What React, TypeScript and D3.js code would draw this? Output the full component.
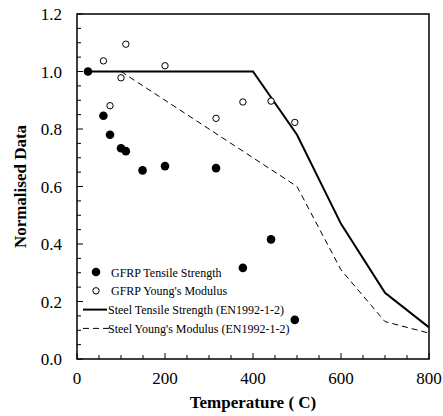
import React from "react";
import * as d3 from "d3";

// GFRP test data (normalised)
const gfrpTemp = [25, 60, 75, 100, 111, 149, 200, 316, 377, 441, 495];
const gfrpStrength = [1.0, 0.846, 0.78, 0.733, 0.723, 0.656, 0.671, 0.664, 0.317, 0.416, 0.136];

const gfrpModTemp = [60, 75, 100, 111, 200, 316, 377, 441, 495];
const gfrpModulus = [1.037, 0.881, 0.978, 1.095, 1.02, 0.837, 0.894, 0.897, 0.823];

// EN1992-1-2 reduction factors
const steelTemp = [20, 400, 500, 600, 700, 800];
const steelStrength = [1.0, 1.0, 0.78, 0.47, 0.23, 0.11];

const steelModTemp = [100, 200, 300, 400, 500, 600, 700, 800];
const steelModulus = [1.0, 0.9, 0.8, 0.7, 0.6, 0.31, 0.13, 0.09];

const xTicks = [0, 200, 400, 600, 800];
const yTicks = [0, 0.2, 0.4, 0.6, 0.8, 1.0, 1.2];

const legendLabels = [
  "GFRP Tensile Strength",
  "GFRP Young's Modulus",
  "Steel Tensile Strength (EN1992-1-2)",
  "Steel Young's Modulus (EN1992-1-2)",
];

const W = 443;
const H = 416;
const margin = { top: 14, right: 14, bottom: 57, left: 77 };
const font = "Liberation Serif";

export default function App() {
  const x = d3.scaleLinear().domain([0, 800]).range([margin.left, W - margin.right]);
  const y = d3.scaleLinear().domain([0, 1.2]).range([H - margin.bottom, margin.top]);

  const line = d3
    .line<[number, number]>()
    .x((d) => x(d[0]))
    .y((d) => y(d[1]));

  const strengthPts = steelTemp.map((t, i) => [t, steelStrength[i]] as [number, number]);
  const modPts = steelModTemp.map((t, i) => [t, steelModulus[i]] as [number, number]);

  const minorX = d3.range(0, 801, 50);
  const minorY = d3.range(0, 1.2001, 0.05);

  const legX = 96;
  const legY0 = 272;
  const legDy = 18.8;

  return (
    <svg width={W} height={H} style={{ position: "absolute", left: 0, top: 0 }}>
      <rect x={0} y={0} width={W} height={H} fill="white" />

      {/* ticks */}
      {minorX.map((t) => (
        <line
          key={"mx" + t}
          x1={x(t)}
          x2={x(t)}
          y1={y(0)}
          y2={y(0) - (t % 200 === 0 ? 6 : 4)}
          stroke="black"
          strokeWidth={1}
        />
      ))}
      {minorY.map((t, i) => (
        <line
          key={"my" + i}
          x1={x(0)}
          x2={x(0) + (i % 4 === 0 ? 6 : 4)}
          y1={y(t)}
          y2={y(t)}
          stroke="black"
          strokeWidth={1}
        />
      ))}

      {/* steel curves */}
      <path d={line(modPts) || ""} fill="none" stroke="black" strokeWidth={1} strokeDasharray="6,4" />
      <path d={line(strengthPts) || ""} fill="none" stroke="black" strokeWidth={2} />

      {/* GFRP points */}
      {gfrpModTemp.map((t, i) => (
        <circle key={"m" + i} cx={x(t)} cy={y(gfrpModulus[i])} r={3.2} fill="white" stroke="black" strokeWidth={1} />
      ))}
      {gfrpTemp.map((t, i) => (
        <circle key={"s" + i} cx={x(t)} cy={y(gfrpStrength[i])} r={4.3} fill="black" />
      ))}

      {/* frame */}
      <rect
        x={margin.left}
        y={margin.top}
        width={W - margin.left - margin.right}
        height={H - margin.top - margin.bottom}
        fill="none"
        stroke="black"
        strokeWidth={1.5}
      />

      {/* tick labels */}
      {xTicks.map((t) => (
        <text key={"xl" + t} x={x(t)} y={y(0) + 25} textAnchor="middle" fontSize={17} fontFamily={font}>
          {t}
        </text>
      ))}
      {yTicks.map((t) => (
        <text key={"yl" + t} x={margin.left - 15} y={y(t) + 6} textAnchor="end" fontSize={17} fontFamily={font}>
          {t.toFixed(1)}
        </text>
      ))}

      {/* axis titles */}
      <text x={x(400)} y={408} textAnchor="middle" fontSize={17} fontWeight="bold" fontFamily={font}>
        Temperature ( C)
      </text>
      <text
        transform={`translate(26,${(y(0) + y(1.2)) / 2}) rotate(-90)`}
        textAnchor="middle"
        fontSize={17}
        fontWeight="bold"
        fontFamily={font}
      >
        Normalised Data
      </text>

      {/* legend */}
      <circle cx={legX} cy={legY0} r={4.3} fill="black" />
      <circle cx={legX} cy={legY0 + legDy} r={3.2} fill="white" stroke="black" strokeWidth={1} />
      <line x1={83} x2={107} y1={legY0 + 2 * legDy} y2={legY0 + 2 * legDy} stroke="black" strokeWidth={2} />
      <line
        x1={83}
        x2={110}
        y1={legY0 + 3 * legDy}
        y2={legY0 + 3 * legDy}
        stroke="black"
        strokeWidth={1}
        strokeDasharray="6,4"
      />
      {legendLabels.map((l, i) => (
        <text key={l} x={i < 2 ? 111 : 108} y={legY0 + i * legDy + 4.5} fontSize={12} fontFamily={font}>
          {l}
        </text>
      ))}
    </svg>
  );
}
